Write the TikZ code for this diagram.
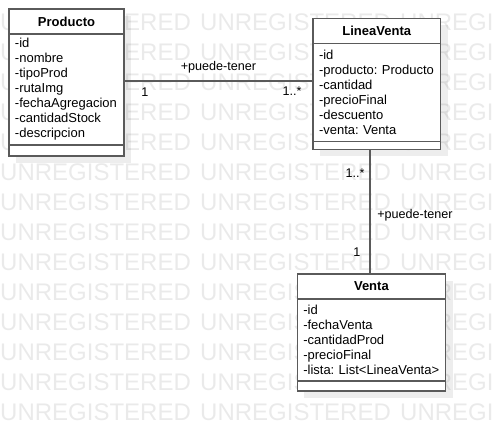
\documentclass[tikz,border=0pt]{standalone}
\usepackage{fontspec}
\setmainfont{Liberation Sans}
\usepackage{tikz}
\usetikzlibrary{shadows, positioning}
\definecolor{grisLinea}{RGB}{90,90,90}
\definecolor{grisMarca}{RGB}{234,234,234}

\tikzset{
    clase/.style = {draw = grisLinea, line width = 1.3pt, fill = white, inner sep = 0pt, outer sep = 0pt,
        drop shadow = {shadow xshift = 7pt, shadow yshift = -7pt, fill = black, opacity = 0.07}},
    titulo/.style = {clase, font = \fontsize{13}{15}\selectfont\bfseries, minimum height = 25pt},
    atributos/.style = {clase, font = \fontsize{13}{15}\selectfont, align = left, inner xsep = 6pt},
    vacio/.style = {clase},
    conector/.style = {draw = grisLinea, line width = 1.3pt},
    etiqueta/.style = {font = \fontsize{12.6}{15}\selectfont, inner sep = 0pt},
    marca/.style = {font = \fontsize{24}{24}\selectfont, text = grisMarca, inner sep = 0pt}
}

\begin{document}
\begin{tikzpicture}[x = 1pt, y = -1pt]
        \useasboundingbox (0,0) rectangle (493,431);
        % Marca de agua
        \begin{scope}
            \clip (0,0) rectangle (493,431);
            \foreach \fila in {0,...,13}
                \foreach \col in {0,1,2}
                    \node[marca, anchor = base west] (marca-\fila-\col) at ({200*\col}, {30.6 + 30*\fila}) {UNREGISTERED};
        \end{scope}
        % Clase Producto
        \node[titulo, minimum width = 115pt, anchor = north west] (Producto) at (9,9) {Producto};
        \node[atributos, text width = 103pt, minimum height = 111pt, anchor = north west] (ProductoAttr) at (Producto.south west)
            {-id\\-nombre\\-tipoProd\\-rutaImg\\-fechaAgregacion\\-cantidadStock\\-descripcion};
        \node[vacio, minimum width = 115pt, minimum height = 11pt, anchor = north west] (ProductoOps) at (ProductoAttr.south west) {};
        % Clase LineaVenta
        \node[titulo, minimum width = 127.5pt, anchor = north west] (LineaVenta) at (313,18.3) {LineaVenta};
        \node[atributos, text width = 115.5pt, minimum height = 98.5pt, anchor = north west] (LineaVentaAttr) at (LineaVenta.south west)
            {-id\\-producto:~Producto\\-cantidad\\-precioFinal\\-descuento\\-venta:~Venta};
        \node[vacio, minimum width = 127.5pt, minimum height = 7.6pt, anchor = north west] (LineaVentaOps) at (LineaVentaAttr.south west) {};
        % Clase Venta
        \node[titulo, minimum width = 148.2pt, anchor = north west] (Venta) at (297.3,274) {Venta};
        \node[atributos, text width = 136.2pt, minimum height = 82pt, anchor = north west] (VentaAttr) at (Venta.south west)
            {-id\\-fechaVenta\\-cantidadProd\\-precioFinal\\-lista:~List<LineaVenta>};
        \node[vacio, minimum width = 148.2pt, minimum height = 10pt, anchor = north west] (VentaOps) at (VentaAttr.south west) {};
        % Asociaciones
        \coordinate (nivelAsoc) at (0,81);
        \coordinate (ejeAsoc) at (370,0);
        \draw[conector] (ProductoAttr.east |- nivelAsoc) -- (LineaVentaAttr.west |- nivelAsoc)
            node[etiqueta, pos = 0.5, yshift = 14pt] (rolPL) {+puede-tener}
            node[etiqueta, pos = 0.111, yshift = -11pt] (multP) {1}
            node[etiqueta, pos = 0.889, yshift = -10pt] (multLV) {1..*};
        \draw[conector] (LineaVentaOps.south -| ejeAsoc) -- (Venta.north -| ejeAsoc)
            node[etiqueta, pos = 0.188, xshift = -15pt] (multLV2) {1..*}
            node[etiqueta, pos = 0.532, xshift = 45pt] (rolLV) {+puede-tener}
            node[etiqueta, pos = 0.821, xshift = -13pt] (multV) {1};
    \end{tikzpicture}
\end{document}
